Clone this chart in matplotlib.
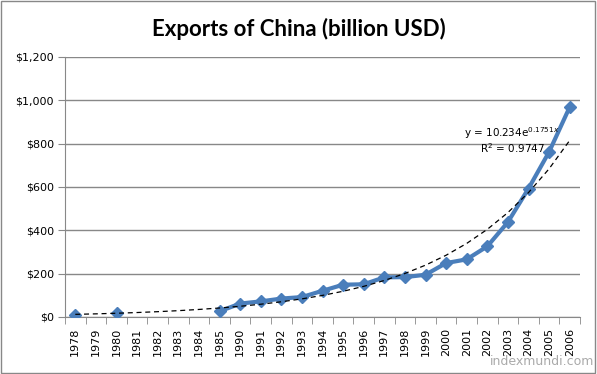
import numpy as np
import matplotlib.pyplot as plt

years = ['1978', '1979', '1980', '1981', '1982', '1983', '1984', '1985',
         '1990', '1991', '1992', '1993', '1994', '1995', '1996', '1997',
         '1998', '1999', '2000', '2001', '2002', '2003', '2004', '2005', '2006']
exports = [8, np.nan, 17, np.nan, np.nan, np.nan, np.nan, 26,
           62, 72, 85, 92, 121, 149, 151, 183,
           184, 195, 249, 266, 326, 438, 593, 762, 969]
# exponential trendline as shown on the chart: y = a*exp(b*x), x = 1..n
trend_a = 10.234
trend_b = 0.1751
y_ticks = [0, 200, 400, 600, 800, 1000, 1200]

fig = plt.figure(figsize=(5.97, 3.74), dpi=100)
fig.patch.set_facecolor('white')
fig.patches.append(plt.Rectangle((0.002, 0.003), 0.995, 0.994, transform=fig.transFigure,
                                 fill=False, edgecolor='#888888', lw=1))
ax = fig.add_axes([65/597, 1 - 317/374, 515/597, 260/374])

x = np.arange(len(years))
ax.plot(x, exports, color='#4a7ebb', lw=3, marker='D', markersize=6, zorder=3)
xi = np.arange(1, len(years) + 1)
ax.plot(x, trend_a * np.exp(trend_b * xi), color='black', lw=0.9, ls=(0, (4, 3)), zorder=4)

ax.set_xlim(-0.5, len(years) - 0.5)
ax.set_ylim(0, 1200)
ax.set_yticks(y_ticks)
ax.set_yticklabels(['$' + format(v, ',') for v in y_ticks], fontsize=8, family='DejaVu Sans')
ax.set_xticks(x)
ax.set_xticklabels(years, rotation=90, fontsize=8, family='DejaVu Sans')
ax.set_xticks(np.arange(-0.5, len(years)), minor=True)
ax.tick_params(axis='x', which='major', length=0, pad=8)
ax.tick_params(axis='x', which='minor', length=5, color='#888888')
ax.tick_params(axis='y', length=5, color='#888888', pad=3)
ax.grid(axis='y', color='#888888', lw=1)
ax.set_axisbelow(True)
for s in ['top', 'right']:
    ax.spines[s].set_visible(False)
for s in ['left', 'bottom']:
    ax.spines[s].set_color('#888888')

ax.text(21.2, 849, 'y = 10.234e$^{0.1751x}$', fontsize=7.5, ha='center', va='center')
ax.text(21.2, 780, 'R$^2$ = 0.9747', fontsize=7.5, ha='center', va='center')

fig.text(0.5, 0.922, 'Exports of China (billion USD)', ha='center', va='center',
         fontsize=16, fontweight='bold', family='Lato')
fig.text(0.995, 0.015, 'indexmundi.com', ha='right', va='bottom', fontsize=9, color='#aaaaaa')

fig.savefig('out.png', dpi=100)
